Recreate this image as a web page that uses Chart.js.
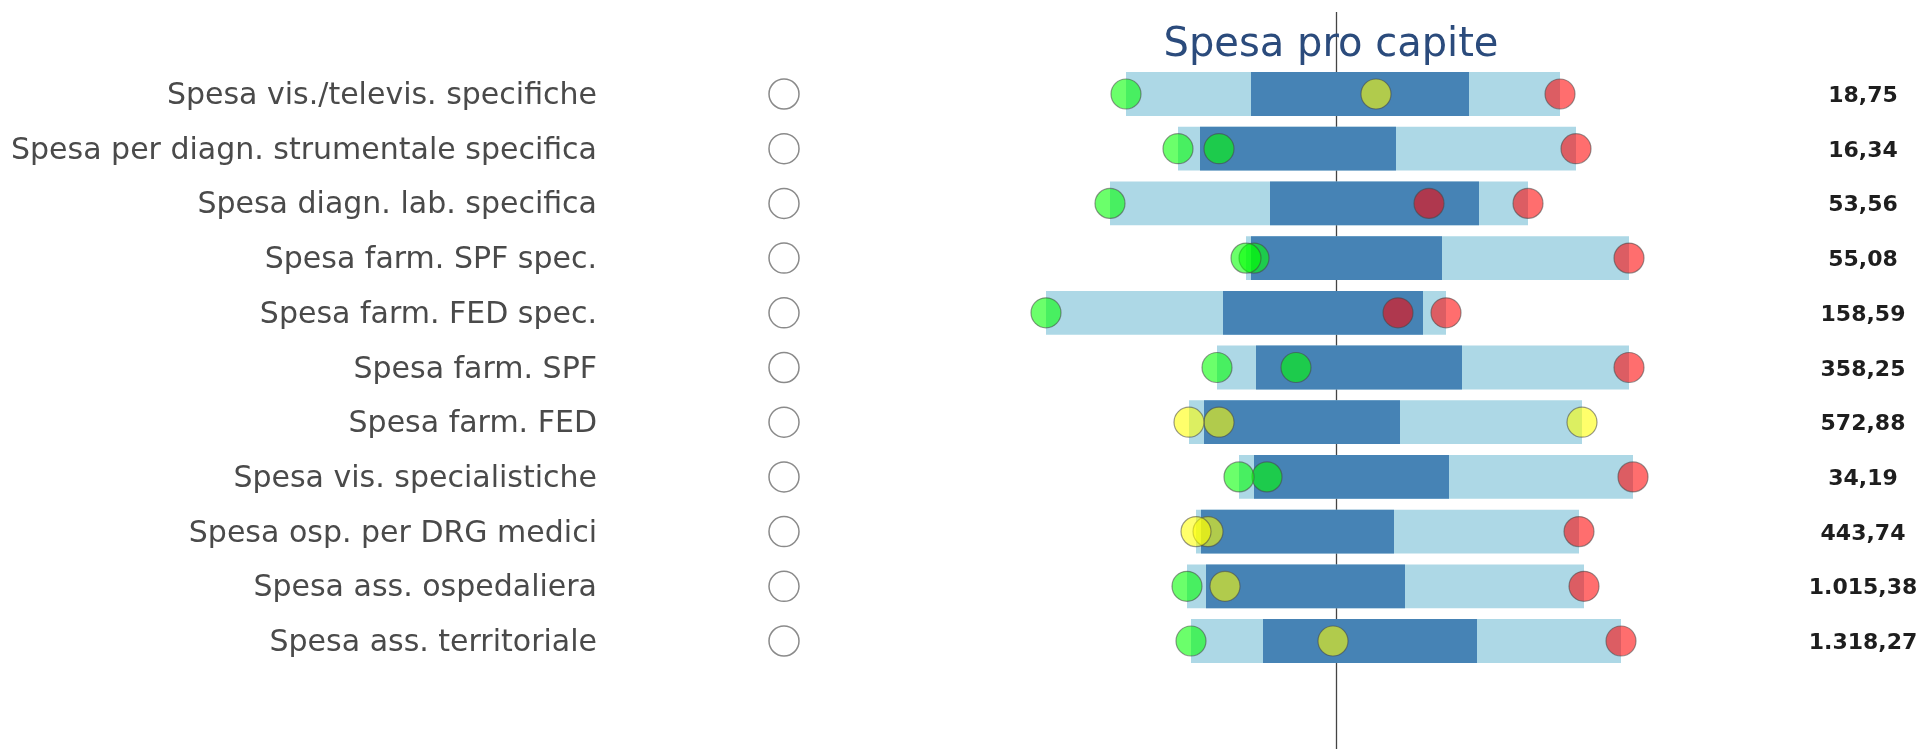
<!DOCTYPE html>
<html>
<head>
<meta charset="utf-8">
<script src="https://cdn.jsdelivr.net/npm/chart.js@4/dist/chart.umd.min.js"></script>
<style>
  html, body { margin: 0; padding: 0; background: #fff; }
  canvas { display: block; }
</style>
</head>
<body>
<canvas id="grafico" width="1926" height="749"></canvas>
<script>
const etichette = [
  'Spesa vis./televis. specifiche',
  'Spesa per diagn. strumentale specifica',
  'Spesa diagn. lab. specifica',
  'Spesa farm. SPF spec.',
  'Spesa farm. FED spec.',
  'Spesa farm. SPF',
  'Spesa farm. FED',
  'Spesa vis. specialistiche',
  'Spesa osp. per DRG medici',
  'Spesa ass. ospedaliera',
  'Spesa ass. territoriale'
];
const valoriTesto = ['18,75', '16,34', '53,56', '55,08', '158,59', '358,25', '572,88', '34,19', '443,74', '1.015,38', '1.318,27'];

// scarti standardizzati rispetto al riferimento (0 = linea centrale)
const minimo  = [-2.10, -1.58, -2.26, -0.90, -2.90, -1.19, -1.47, -0.97, -1.40, -1.49, -1.45];
const q1      = [-0.85, -1.36, -0.66, -0.85, -1.13, -0.80, -1.32, -0.82, -1.35, -1.30, -0.73];
const q3      = [ 1.33,  0.60,  1.43,  1.06,  0.87,  1.26,  0.64,  1.13,  0.58,  0.69,  1.41];
const massimo = [ 2.24,  2.40,  1.92,  2.93,  1.10,  2.93,  2.46,  2.97,  2.43,  2.48,  2.85];
const valore  = [ 0.40, -1.17,  0.93, -0.82,  0.62, -0.40, -1.17, -0.69, -1.28, -1.11, -0.03];

const statoMin    = ['verde', 'verde', 'verde', 'verde', 'verde', 'verde', 'giallo', 'verde', 'giallo', 'verde', 'verde'];
const statoValore = ['giallo', 'verde', 'rosso', 'verde', 'rosso', 'verde', 'giallo', 'verde', 'giallo', 'giallo', 'giallo'];
const statoMax    = ['rosso', 'rosso', 'rosso', 'rosso', 'rosso', 'rosso', 'giallo', 'rosso', 'rosso', 'rosso', 'rosso'];

const colori = {
  verde: 'rgba(0, 255, 0, 0.58)',
  giallo: 'rgba(255, 255, 0, 0.58)',
  rosso: 'rgba(255, 0, 0, 0.57)'
};

const punti = (valori) => valori.map((v, i) => ({ x: v, y: etichette[i] }));

const pallini = (valori, stati, ordine) => ({
  type: 'scatter',
  data: punti(valori),
  order: ordine,
  pointStyle: 'circle',
  pointRadius: 15,
  pointHoverRadius: 15,
  pointBackgroundColor: stati.map(s => colori[s]),
  pointBorderColor: 'rgba(70, 70, 70, 0.55)',
  pointBorderWidth: 1.2
});

const decorazioni = {
  id: 'decorazioni',
  beforeDatasetsDraw(chart) {
    const { ctx, scales: { x } } = chart;
    const cx = Math.round(x.getPixelForValue(0)) + 0.5;
    ctx.save();
    ctx.strokeStyle = '#444';
    ctx.lineWidth = 1.3;
    ctx.beginPath();
    ctx.moveTo(cx, 12);
    ctx.lineTo(cx, chart.height);
    ctx.stroke();
    ctx.restore();
  },
  afterDraw(chart) {
    const { ctx, scales: { x, y } } = chart;
    ctx.save();

    ctx.fillStyle = '#2b4b7c';
    ctx.font = '40px "DejaVu Sans"';
    ctx.textAlign = 'center';
    ctx.textBaseline = 'alphabetic';
    ctx.fillText('Spesa pro capite', x.getPixelForValue(0) - 5, 56);

    etichette.forEach((lab, i) => {
      const cy = y.getPixelForValue(i);

      ctx.fillStyle = '#4a4a4a';
      ctx.font = '30px "DejaVu Sans"';
      ctx.textAlign = 'right';
      ctx.fillText(lab, 597, cy + 10);

      ctx.strokeStyle = '#8a8a8a';
      ctx.lineWidth = 1.5;
      ctx.beginPath();
      ctx.arc(784, cy, 15, 0, Math.PI * 2);
      ctx.stroke();

      ctx.fillStyle = '#1e1e1e';
      ctx.font = 'bold 22px "DejaVu Sans"';
      ctx.textAlign = 'center';
      ctx.fillText(valoriTesto[i], 1863, cy + 8);
    });
    ctx.restore();
  }
};

new Chart(document.getElementById('grafico'), {
  type: 'bar',
  data: {
    labels: etichette,
    datasets: [
      pallini(minimo, statoMin, 0),
      pallini(valore, statoValore, 0),
      pallini(massimo, statoMax, 0),
      {
        label: 'interquartile',
        data: q1.map((v, i) => [v, q3[i]]),
        backgroundColor: 'rgba(62, 124, 176, 0.93)',
        order: 1,
        grouped: false,
        barPercentage: 0.8,
        categoryPercentage: 1
      },
      {
        label: 'range',
        data: minimo.map((v, i) => [v, massimo[i]]),
        backgroundColor: '#add8e6',
        order: 2,
        grouped: false,
        barPercentage: 0.8,
        categoryPercentage: 1
      }
    ]
  },
  options: {
    indexAxis: 'y',
    responsive: false,
    animation: false,
    events: [],
    layout: { padding: { left: 1000, right: 226, top: 66.65, bottom: 80.65 } },
    scales: {
      x: { type: 'linear', min: -3.36, max: 3.64, display: false },
      y: { type: 'category', display: false, offset: true }
    },
    plugins: {
      legend: { display: false },
      tooltip: { enabled: false },
      title: { display: false }
    }
  },
  plugins: [decorazioni]
});
</script>
</body>
</html>
